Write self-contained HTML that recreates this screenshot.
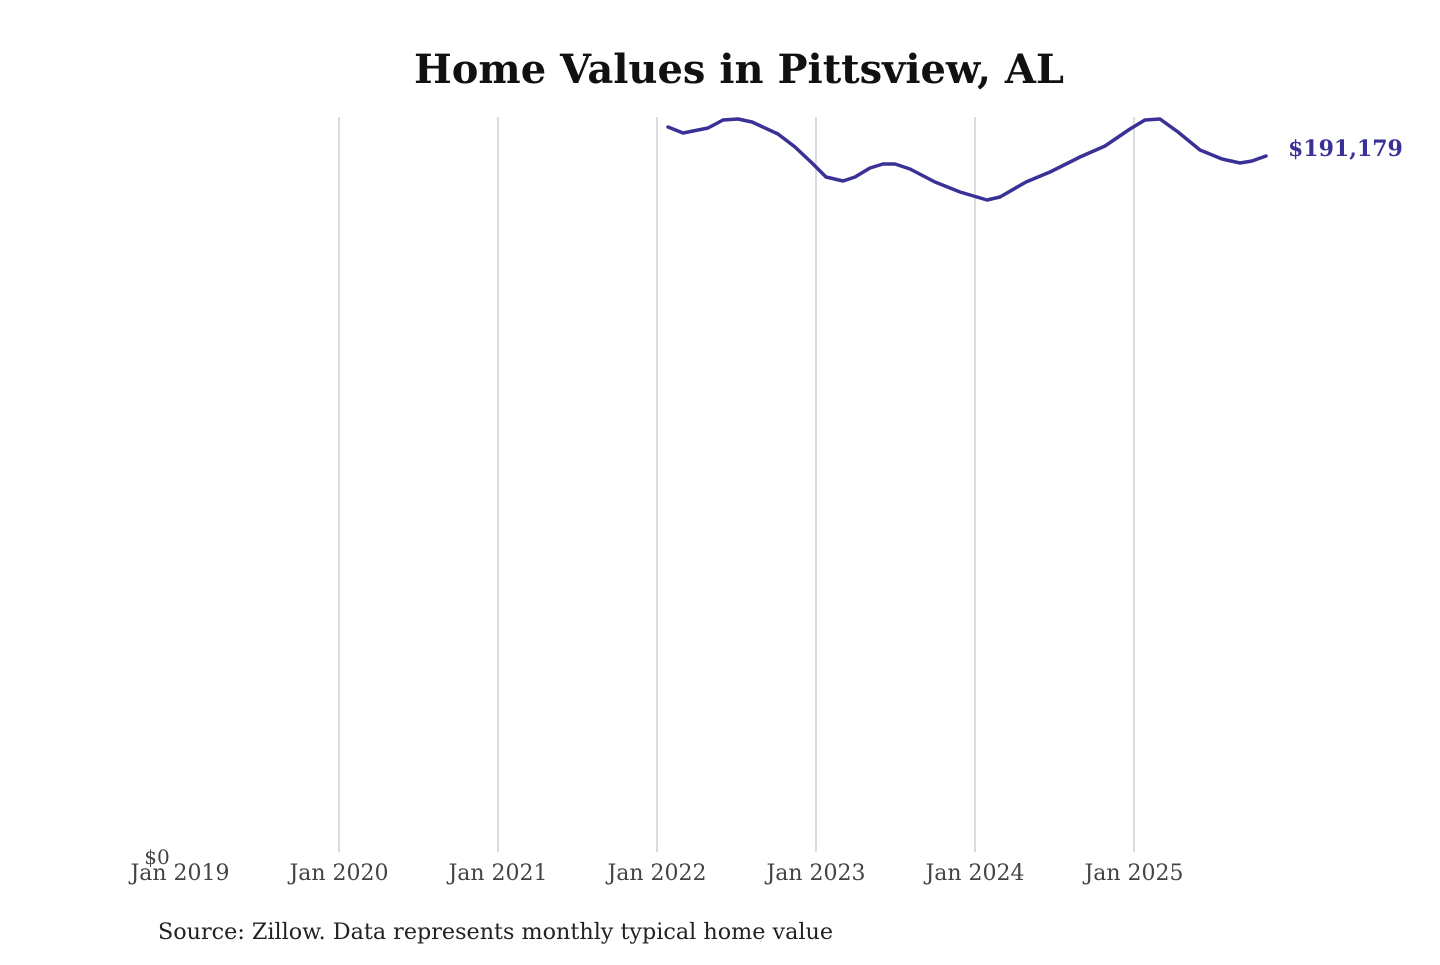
<!DOCTYPE html>
<html><head><style>body{margin:0;background:#fff;width:1440px;height:960px;overflow:hidden}</style></head>
<body>
<svg width="1440" height="960" xmlns="http://www.w3.org/2000/svg" font-family="'DejaVu Serif', 'Liberation Serif', serif">
<rect width="1440" height="960" fill="#fff"/>
<text x="739" y="83" text-anchor="middle" font-size="40" font-weight="bold" fill="#111" textLength="650" lengthAdjust="spacingAndGlyphs">Home Values in Pittsview, AL</text>
<g stroke="#c8c8c8" stroke-width="1.3">
<line x1="339" y1="117" x2="339" y2="852"/><line x1="498" y1="117" x2="498" y2="852"/>
<line x1="657" y1="117" x2="657" y2="852"/><line x1="816" y1="117" x2="816" y2="852"/>
<line x1="975" y1="117" x2="975" y2="852"/><line x1="1134" y1="117" x2="1134" y2="852"/>
</g>
<g font-size="22" fill="#444" text-anchor="middle">
<text x="180" y="880">Jan 2019</text><text x="339" y="880">Jan 2020</text><text x="498" y="880">Jan 2021</text>
<text x="657" y="880">Jan 2022</text><text x="816" y="880">Jan 2023</text><text x="975" y="880">Jan 2024</text><text x="1134" y="880">Jan 2025</text>
</g>
<text x="157" y="864" text-anchor="middle" font-size="20" fill="#444">$0</text>
<polyline fill="none" stroke="#3a3196" stroke-width="3.5" stroke-linejoin="round" stroke-linecap="round"
points="668,127 683,133 708,128 723,120 738,119 752,122 778,134 795,147 812,163 826,177 843,181 855,177 870,168 883,164 895,164 910,169 935,182 960,192 987,200 1000,197 1026,182 1050,172 1080,157 1105,146 1130,129 1145,120 1160,119 1178,132 1200,150 1222,159 1240,163 1252,161 1266,156"/>
<text x="1288" y="156" font-size="22" font-weight="bold" fill="#3a3196">$191,179</text>
<text x="158" y="939" font-size="22" fill="#222" textLength="675" lengthAdjust="spacingAndGlyphs">Source: Zillow. Data represents monthly typical home value</text>
</svg>
</body></html>
